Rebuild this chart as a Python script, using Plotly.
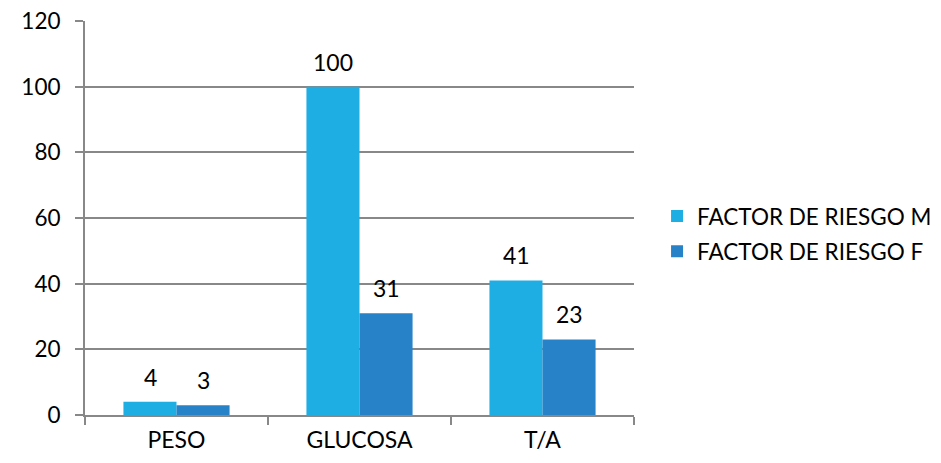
import plotly.graph_objects as go

categories = ["PESO", "GLUCOSA", "T/A"]
serie_m = [4, 100, 41]
serie_f = [3, 31, 23]
names = ["FACTOR DE RIESGO M", "FACTOR DE RIESGO F"]
colors = ["#1FAEE3", "#2882C8"]

FONT = "Lato, 'Open Sans', sans-serif"

fig = go.Figure()
for name, vals, col in zip(names, [serie_m, serie_f], colors):
    fig.add_trace(go.Bar(x=categories, y=vals, name=name, marker_color=col,
                         marker_line_width=0, legendgroup=name))

# value labels above the bars
for i, vals in enumerate([serie_m, serie_f]):
    for c, v in zip(categories, vals):
        fig.add_annotation(x=c, y=v, text=str(v), showarrow=False,
                           xref="x", yref="y", yshift=25,
                           xshift=(-26.5 if i == 0 else 26.5),
                           font=dict(size=23, color="#000000", family=FONT))

fig.update_layout(
    width=941, height=463,
    margin=dict(l=77, r=315, t=13, b=56, autoexpand=False),
    paper_bgcolor="white", plot_bgcolor="white",
    barmode="group", bargap=0.42, bargroupgap=0,
    font=dict(family=FONT, color="#000000"),
    legend=dict(x=1.042, y=0.46, xanchor="left", yanchor="middle",
                font=dict(size=22.5, family=FONT), itemwidth=30,
                tracegroupgap=3, bgcolor="rgba(0,0,0,0)"),
    showlegend=True,
)
fig.update_xaxes(showline=True, linecolor="#888888", linewidth=2,
                 ticks="outside", tickson="boundaries", ticklen=8,
                 tickcolor="#888888", tickwidth=2,
                 tickfont=dict(size=23, family=FONT), showgrid=False,
                 ticklabelstandoff=3)
fig.update_yaxes(range=[0, 120], dtick=20, showline=True, linecolor="#888888",
                 linewidth=2, gridcolor="#888888", gridwidth=2,
                 ticks="outside", ticklen=8, tickcolor="#888888", tickwidth=2,
                 tickfont=dict(size=22.5, family=FONT), zeroline=False,
                 ticklabelstandoff=10, ticklabeloverflow="allow")

fig.write_html("out.html")
